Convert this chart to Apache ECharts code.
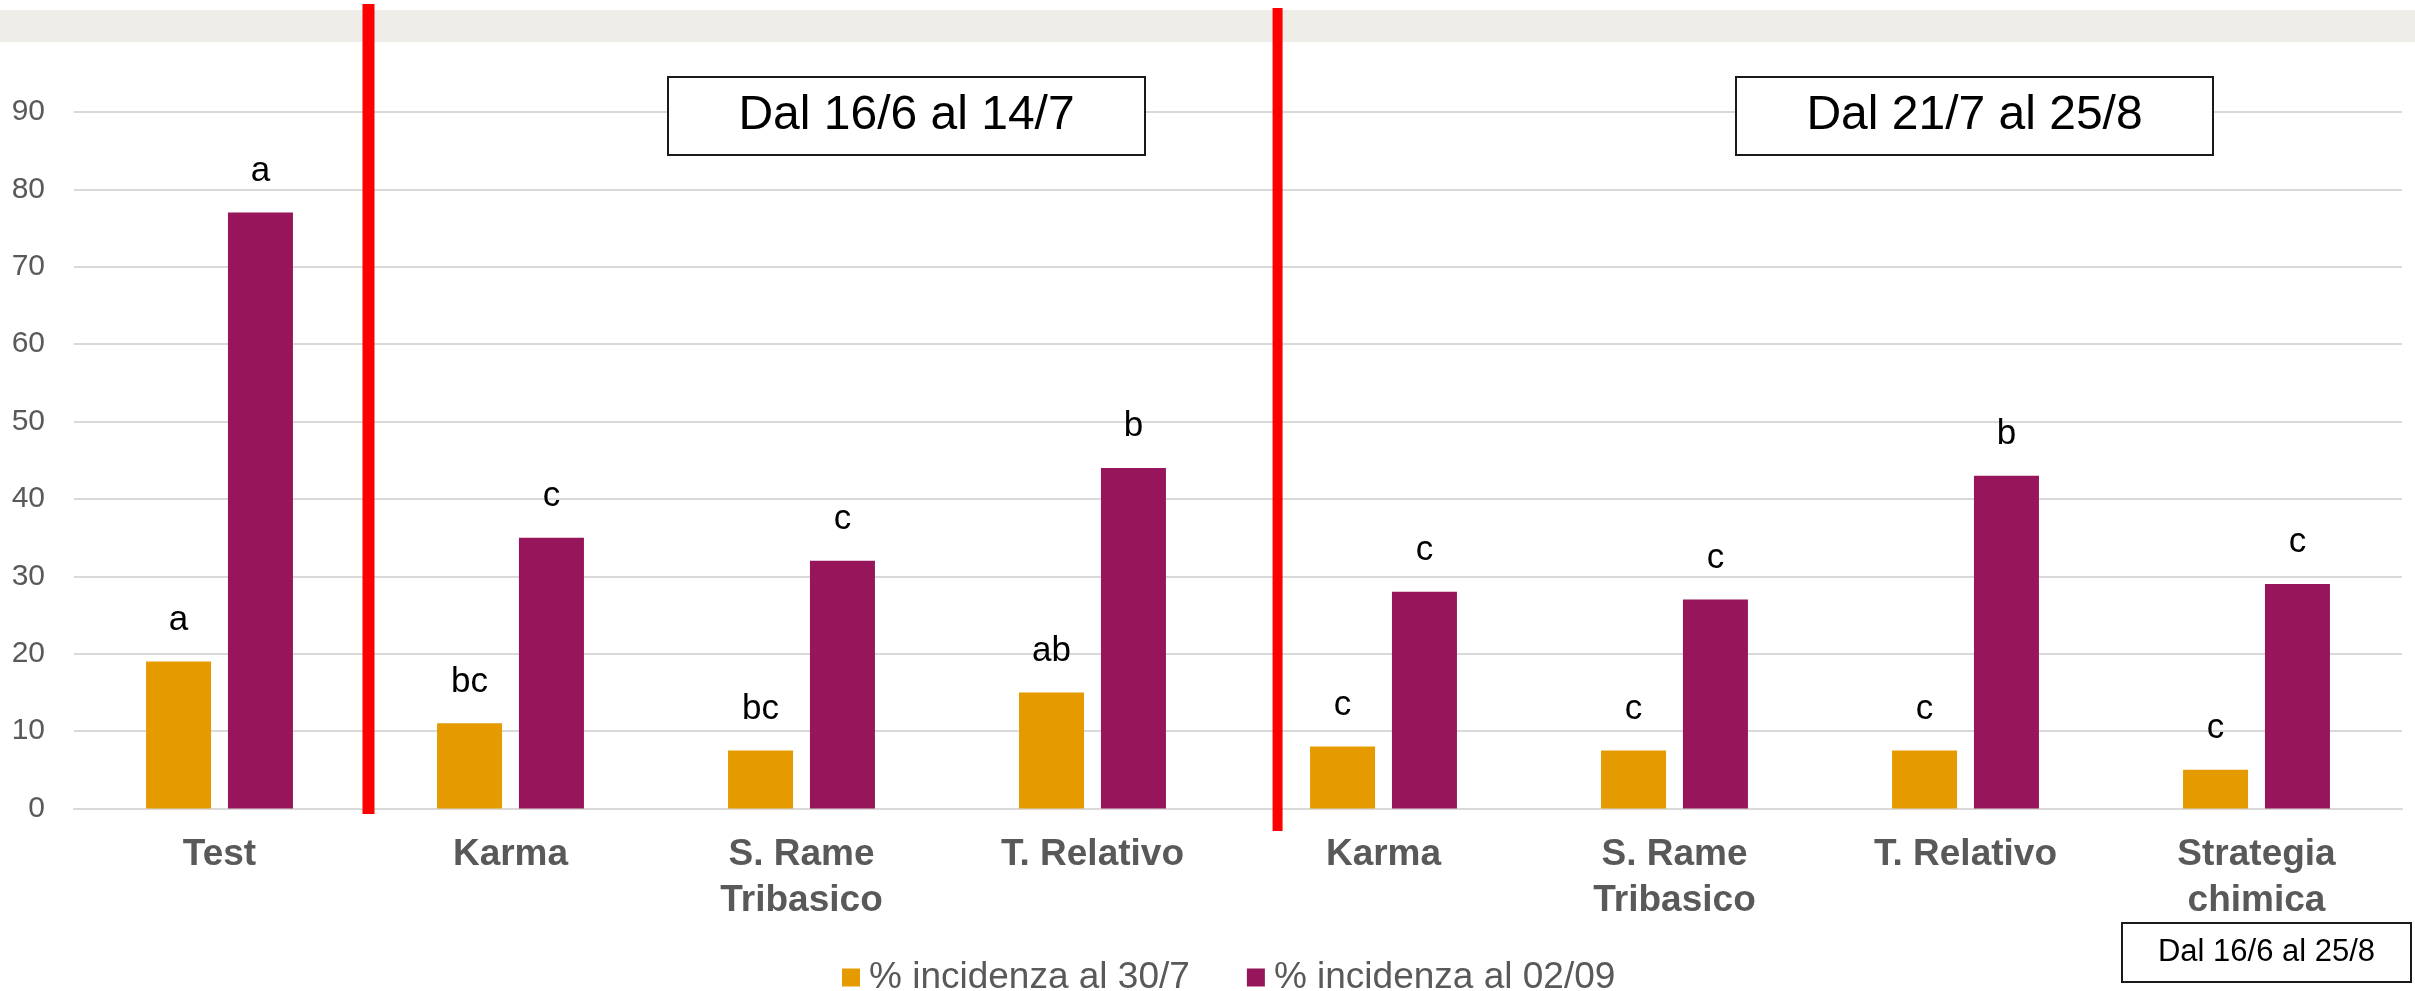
<!DOCTYPE html>
<html>
<head>
<meta charset="utf-8">
<style>
  html, body { margin: 0; padding: 0; background: #ffffff; }
  #chart { width: 2415px; height: 991px; }
</style>
<script src="https://cdn.jsdelivr.net/npm/echarts@6/dist/echarts.min.js"></script>
</head>
<body>
<div id="chart"></div>
<script>
const categories = ['Test', 'Karma', 'S. Rame\nTribasico', 'T. Relativo', 'Karma', 'S. Rame\nTribasico', 'T. Relativo', 'Strategia\nchimica'];
const seriesNames = ['% incidenza al 30/7', '% incidenza al 02/09'];
const incidenza307 = [19, 11, 7.5, 15, 8, 7.5, 7.5, 5];
const incidenza0209 = [77, 35, 32, 44, 28, 27, 43, 29];
const letters307 = ['a', 'bc', 'bc', 'ab', 'c', 'c', 'c', 'c'];
const letters0209 = ['a', 'c', 'c', 'b', 'c', 'c', 'b', 'c'];
const periodLabels = ['Dal 16/6 al 14/7', 'Dal 21/7 al 25/8', 'Dal 16/6 al 25/8'];

const FONT = '"Liberation Sans", Arial, sans-serif';
const chart = echarts.init(document.getElementById('chart'), null, { renderer: 'canvas' });

function letterLabel(letters) {
  return {
    show: true,
    position: 'top',
    distance: 24,
    fontFamily: FONT,
    fontSize: 35,
    color: '#000000',
    formatter: p => letters[p.dataIndex]
  };
}

const option = {
  backgroundColor: '#ffffff',
  animation: false,
  grid: { left: 74, right: 13, top: 112, bottom: 182.5, containLabel: false },
  legend: {
    left: 837,
    top: 954,
    itemWidth: 18,
    itemHeight: 18,
    itemGap: 57,
    icon: 'rect',
    textStyle: { fontFamily: FONT, fontSize: 37, color: '#595959', padding: [0, 0, 0, 4] },
    data: seriesNames
  },
  xAxis: {
    type: 'category',
    data: categories,
    axisLine: { show: true, lineStyle: { color: '#D9D9D9', width: 2 } },
    axisTick: { show: false },
    axisLabel: {
      interval: 0,
      margin: 23,
      fontFamily: FONT,
      fontSize: 37,
      fontWeight: 'bold',
      lineHeight: 46,
      color: '#595959'
    }
  },
  yAxis: {
    type: 'value',
    min: 0,
    max: 90,
    interval: 10,
    axisLine: { show: false },
    axisTick: { show: false },
    splitLine: { lineStyle: { color: '#D9D9D9', width: 2 } },
    axisLabel: { margin: 29, fontFamily: FONT, fontSize: 30, color: '#595959' }
  },
  series: [
    {
      name: seriesNames[0],
      type: 'bar',
      data: incidenza307,
      barWidth: 65,
      barGap: '26%',
      itemStyle: { color: '#E59B00' },
      label: letterLabel(letters307)
    },
    {
      name: seriesNames[1],
      type: 'bar',
      data: incidenza0209,
      barWidth: 65,
      barGap: '26%',
      itemStyle: { color: '#97155B' },
      label: letterLabel(letters0209)
    }
  ]
};

chart.setOption(option);

// annotations computed from the category axis
const p0 = chart.convertToPixel({ xAxisIndex: 0 }, 0);
const p1 = chart.convertToPixel({ xAxisIndex: 0 }, 1);
const p3 = chart.convertToPixel({ xAxisIndex: 0 }, 3);
const band = p1 - p0;
const redX1 = p0 + band * 0.512;
const redX2 = p3 + band * 0.636;

function box(x, y, w, h, text, fs) {
  return {
    type: 'group',
    z: 100,
    children: [
      { type: 'rect', shape: { x: x, y: y, width: w, height: h },
        style: { fill: '#ffffff', stroke: '#1a1a1a', lineWidth: 2 } },
      { type: 'text', x: x + w / 2, y: y + h / 2,
        style: { text: text, fontFamily: FONT, fontSize: fs, fill: '#000000', align: 'center', verticalAlign: 'middle' } }
    ]
  };
}

chart.setOption({
  graphic: [
    { type: 'rect', z: 50, shape: { x: 0, y: 10, width: 2415, height: 32 }, style: { fill: '#EFEDE8' } },
    { type: 'rect', z: 60, shape: { x: redX1 - 6, y: 4, width: 12, height: 810 }, style: { fill: '#FF0000' } },
    { type: 'rect', z: 60, shape: { x: redX2 - 5, y: 8, width: 10, height: 823 }, style: { fill: '#FF0000' } },
    box(668, 77, 477, 78, periodLabels[0], 48),
    box(1736, 77, 477, 78, periodLabels[1], 48),
    box(2122, 923, 289, 59, periodLabels[2], 31)
  ]
});
</script>
</body>
</html>
